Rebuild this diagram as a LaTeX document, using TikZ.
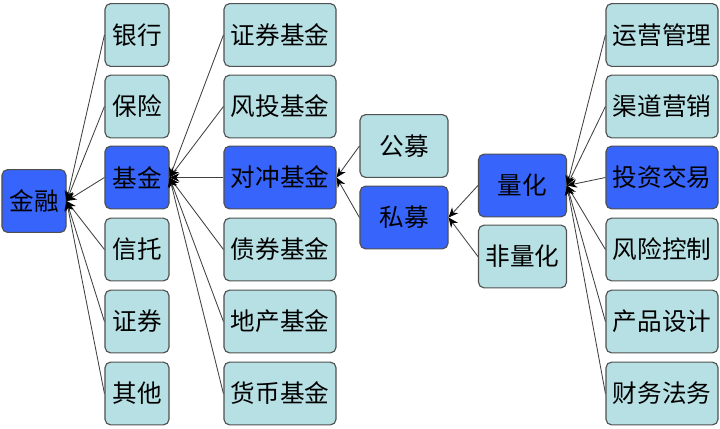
\documentclass[tikz,border=0pt]{standalone}
\usepackage{fontspec}
\newfontfamily\cjk{Noto Sans CJK SC}
\definecolor{paleblue}{RGB}{183,224,228}
\definecolor{hotblue}{RGB}{55,100,250}
\definecolor{edgegray}{RGB}{80,80,80}
\definecolor{linegray}{RGB}{64,64,64}
\usepackage{tikz}
\usetikzlibrary{arrows.meta,positioning}
\tikzset{
  box/.style={draw=edgegray,fill=paleblue,rounded corners=4pt,thick,
    minimum height=1.57cm,inner sep=0pt,font=\cjk\fontsize{17.5}{20}\selectfont},
  hot/.style={box,fill=hotblue},
  wtwo/.style={minimum width=1.6cm},
  wthree/.style={minimum width=2.2cm},
  wfour/.style={minimum width=2.8cm},
  link/.style={linegray,semithick,-{Stealth[black,length=7pt,width=6pt]}},
}
\begin{document}
\begin{tikzpicture}[x=0.025cm,y=-0.025cm]
  \useasboundingbox (0,0) rectangle (720,428);
  % root
  \node[hot,wtwo] (jinrong) at (34,201) {金融};
  % first level
  \node[box,wtwo] (yinhang) at (137,35) {银行};
  \node[box,wtwo] (baoxian) at (137,106.5) {保险};
  \node[hot,wtwo] (jijin) at (137,177.5) {基金};
  \node[box,wtwo] (xintuo) at (137,249.5) {信托};
  \node[box,wtwo] (zhengquan) at (137,321.5) {证券};
  \node[box,wtwo] (qita) at (137,393.5) {其他};
  % fund types
  \node[box,wfour] (zqjj) at (280,35) {证券基金};
  \node[box,wfour] (ftjj) at (280,106.5) {风投基金};
  \node[hot,wfour] (dcjj) at (280,177.5) {对冲基金};
  \node[box,wfour] (zhjj) at (280,249.5) {债券基金};
  \node[box,wfour] (dcjj2) at (280,321.5) {地产基金};
  \node[box,wfour] (hbjj) at (280,393.5) {货币基金};
  % public / private
  \node[box,wtwo,minimum width=2.2cm] (gongmu) at (404,146) {公募};
  \node[hot,wtwo,minimum width=2.2cm] (simu) at (404,217.5) {私募};
  % quant
  \node[hot,wthree] (lianghua) at (522.5,185.5) {量化};
  \node[box,wthree] (feilh) at (522.5,256.5) {非量化};
  % jobs
  \node[box,wfour] (yunying) at (662,35) {运营管理};
  \node[box,wfour] (qudao) at (662,106.5) {渠道营销};
  \node[hot,wfour] (touzi) at (662,177.5) {投资交易};
  \node[box,wfour] (fengxian) at (662,249.5) {风险控制};
  \node[box,wfour] (chanpin) at (662,321.5) {产品设计};
  \node[box,wfour] (caiwu) at (662,393.5) {财务法务};
  % connectors
  \foreach \n in {yinhang,baoxian,jijin,xintuo,zhengquan,qita}
    \draw[link] (\n.west) -- (jinrong.east);
  \foreach \n in {zqjj,ftjj,dcjj,zhjj,dcjj2,hbjj}
    \draw[link] (\n.west) -- (jijin.east);
  \foreach \n in {gongmu,simu}
    \draw[link] (\n.west) -- (dcjj.east);
  \foreach \n in {lianghua,feilh}
    \draw[link] (\n.west) -- (simu.east);
  \foreach \n in {yunying,qudao,touzi,fengxian,chanpin,caiwu}
    \draw[link] (\n.west) -- (lianghua.east);
\end{tikzpicture}
\end{document}
